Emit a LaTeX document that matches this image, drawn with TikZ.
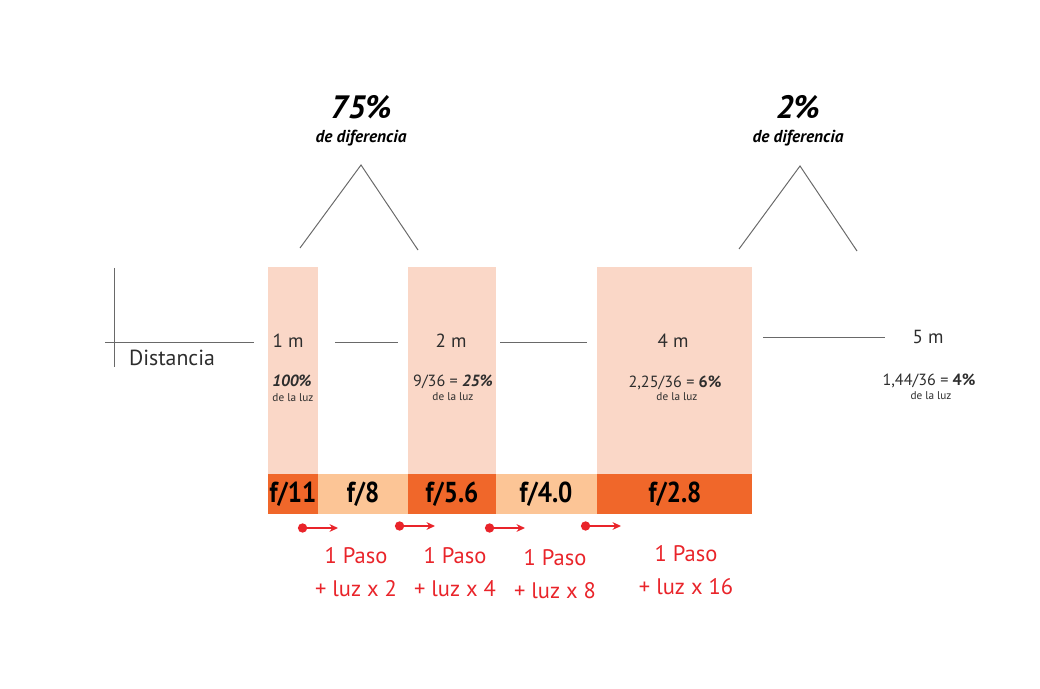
\documentclass[tikz,border=0pt]{standalone}
\usepackage{fontspec}
\setmainfont{PT Sans}
\newfontfamily\narrowfont[FakeStretch=0.87]{PT Sans}
\usepackage{xcolor}
\usepackage{tikz}
\usetikzlibrary{arrows.meta}

\definecolor{boxpink}{RGB}{250,215,199}
\definecolor{darkorange}{RGB}{240,103,42}
\definecolor{lightorange}{RGB}{252,197,150}
\definecolor{pasored}{RGB}{233,36,42}
\definecolor{linegray}{RGB}{105,105,105}
\definecolor{textgray}{RGB}{45,45,45}

\tikzset{
	dist/.style={font=\fontsize{13.5}{15}\selectfont, text=textgray, inner sep=0pt},
	pct/.style={font=\fontsize{11.5}{13}\selectfont, text=textgray, inner sep=0pt},
	luz/.style={font=\fontsize{8}{9}\selectfont, text=textgray, inner sep=0pt},
	fnum/.style={font=\narrowfont\bfseries\fontsize{20.5}{22}\selectfont, text=black, inner sep=0pt},
	paso/.style={font=\fontsize{16}{23.5}\selectfont, text=pasored, align=center, inner sep=0pt},
	big/.style={font=\bfseries\itshape\fontsize{23}{25}\selectfont, inner sep=0pt},
	dif/.style={font=\bfseries\itshape\fontsize{12.3}{14}\selectfont, inner sep=0pt},
	thin/.style={draw=linegray, line width=0.7pt},
	steparrow/.style={pasored, line width=2pt, {Circle[length=6.5pt]}-{Stealth[length=6pt,width=5.5pt]}}
}

\begin{document}
\begin{tikzpicture}[x=0.025cm, y=-0.025cm]
		\useasboundingbox (0,0) rectangle (1040,689);
		%
		\fill[boxpink] (268,267) rectangle (318,474);
		\fill[boxpink] (408,267) rectangle (496,474);
		\fill[boxpink] (597,267) rectangle (752,474);
		\fill[darkorange] (268,474) rectangle (318,514);
		\fill[lightorange] (318,474) rectangle (408,514);
		\fill[darkorange] (408,474) rectangle (496,514);
		\fill[lightorange] (496,474) rectangle (597,514);
		\fill[darkorange] (597,474) rectangle (752,514);
		%
		\node[fnum] (f11) at (293,494) {f/11};
		\node[fnum] (f8) at (363,494) {f/8};
		\node[fnum] (f56) at (452,494) {f/5.6};
		\node[fnum] (f40) at (546,494) {f/4.0};
		\node[fnum] (f28) at (675,494) {f/2.8};
		%
		\coordinate (axtop) at (114,268);
		\coordinate (axbot) at (114,367);
		\coordinate (axl) at (105,342);
		\coordinate (axr) at (254,342);
		\draw[thin] (axtop) -- (axbot);
		\draw[thin] (axl) -- (axr);
		\node[font=\fontsize{15.5}{17}\selectfont, text=textgray] (dst) at (172,358) {Distancia};
		%
		\coordinate (l1a) at (335,342);
		\coordinate (l1b) at (398,342);
		\coordinate (l2a) at (500,342);
		\coordinate (l2b) at (587,342);
		\coordinate (l3a) at (763,337);
		\coordinate (l3b) at (885,337);
		\draw[thin] (l1a) -- (l1b);
		\draw[thin] (l2a) -- (l2b);
		\draw[thin] (l3a) -- (l3b);
		%
		\node[dist] (m1) at (288,341) {1 m};
		\node[pct] (p1) at (292,381) {\bfseries\itshape 100\%};
		\node[luz] (z1) at (293,398) {de la luz};
		\node[dist] (m2) at (451,341) {2 m};
		\node[pct] (p2) at (453,382) {9/36 = \bfseries\itshape 25\%};
		\node[luz] (z2) at (453,397) {de la luz};
		\node[dist] (m4) at (673,341) {4 m};
		\node[pct] (p4) at (675,383) {2,25/36 = \bfseries 6\%};
		\node[luz] (z4) at (677,397) {de la luz};
		\node[dist] (m5) at (928,337) {5 m};
		\node[pct] (p5) at (929,381) {1,44/36 = \bfseries 4\%};
		\node[luz] (z5) at (931,396) {de la luz};
		%
		\node[big] (d75) at (361,107) {75\%};
		\node[dif] (t75) at (361,138) {de diferencia};
		\node[big] (d2) at (798,107) {2\%};
		\node[dif] (t2) at (798,138) {de diferencia};
		\coordinate (a1) at (361,165);
		\coordinate (a1l) at (300,248);
		\coordinate (a1r) at (418,250);
		\coordinate (a2) at (800,166);
		\coordinate (a2l) at (739,249);
		\coordinate (a2r) at (857,251);
		\draw[thin] (a1l) -- (a1) -- (a1r);
		\draw[thin] (a2l) -- (a2) -- (a2r);
		%
		\coordinate (s1a) at (298,528);
		\coordinate (s1b) at (338,528);
		\coordinate (s2a) at (395,526);
		\coordinate (s2b) at (435,526);
		\coordinate (s3a) at (485,528);
		\coordinate (s3b) at (525,528);
		\coordinate (s4a) at (581,526);
		\coordinate (s4b) at (621,526);
		\draw[steparrow] (s1a) -- (s1b);
		\draw[steparrow] (s2a) -- (s2b);
		\draw[steparrow] (s3a) -- (s3b);
		\draw[steparrow] (s4a) -- (s4b);
		%
		\node[paso] (x2) at (356,572) {1 Paso\\+ luz x 2};
		\node[paso] (x4) at (455,572) {1 Paso\\+ luz x 4};
		\node[paso] (x8) at (555,574) {1 Paso\\+ luz x 8};
		\node[paso] (x16) at (686,570) {1 Paso\\+ luz x 16};
\end{tikzpicture}
\end{document}
